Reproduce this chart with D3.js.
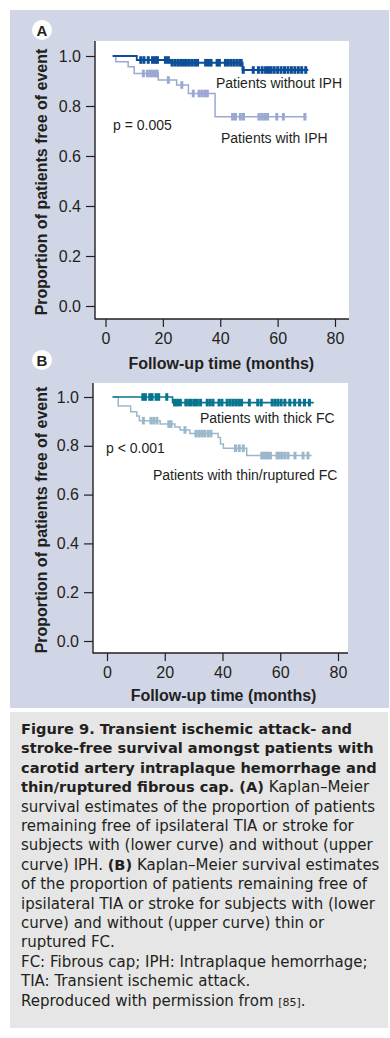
<!DOCTYPE html>
<html>
<head>
<meta charset="utf-8">
<script src="https://cdn.jsdelivr.net/npm/d3@7"></script>
<style>
body { margin: 0; background: #fff; }
svg { display: block; }
</style>
</head>
<body>
<div id="figure"></div>
<script>
// axis ticks
var xTicks = [0, 20, 40, 60, 80];
var yTicks = [0.0, 0.2, 0.4, 0.6, 0.8, 1.0];

// panel A - without IPH (upper curve)
var noIphTimes = [2.5, 10.9, 22.5, 47.8, 70.7];
var noIphSurv  = [1.0, 0.984, 0.973, 0.944, 0.944];
var noIphCensor = [12.3, 13.4, 14.9, 16.4, 17.4, 18.1, 20.9, 21.9,
  23.2, 24.2, 25.2, 26.2, 27.2, 28.2, 29.2, 30.2, 31.2, 32.1, 34.9, 35.9, 36.8,
  38.9, 39.7, 41.8, 42.8, 43.8, 44.8, 45.8, 46.8, 47.3,
  48.0, 51.5, 53.3, 54.6, 55.8, 56.8, 57.7, 58.8, 60.0, 61.2, 62.4, 63.6, 64.8,
  66.0, 67.2, 68.4, 69.8];

// panel A - with IPH (lower curve)
var iphTimes = [2.5, 3.6, 7.9, 10.0, 18.4, 24.8, 28.9, 38.2, 70.1];
var iphSurv  = [1.0, 0.977, 0.957, 0.93, 0.904, 0.884, 0.85, 0.757, 0.757];
var iphCensor = [13.2, 14.6, 15.6, 16.4, 17.4, 18.0, 21.9, 26.6, 30.6, 32.6, 33.6,
  34.6, 35.5, 44.3, 45.3, 47.0, 48.1, 53.5, 54.5, 55.5, 56.5, 59.7, 62.0, 69.5];

// panel B - thick FC (upper curve)
var thickTimes = [2.0, 22.7, 71.6];
var thickSurv  = [1.0, 0.977, 0.977];
var thickCensor = [12.4, 13.3, 14.8, 15.6, 17.0, 17.9, 20.7,
  23.4, 24.4, 25.4, 27.3, 28.3, 29.2, 30.3, 31.3, 32.4, 34.7, 35.7, 36.7,
  38.8, 39.8, 41.6, 42.6, 43.6, 44.6, 45.6, 46.6, 49.3,
  52.2, 53.4, 57.2, 58.2, 59.2, 60.3, 61.6, 63.3, 65.0, 66.7, 68.4, 70.1];

// panel B - thin/ruptured FC (lower curve)
var thinTimes = [1.8, 3.9, 8.2, 10.3, 11.2, 18.4, 23.5, 25.3, 28.7, 38.5, 39.3, 40.3, 48.4, 70.9];
var thinSurv  = [1.0, 0.963, 0.94, 0.922, 0.903, 0.889, 0.877, 0.865, 0.85, 0.834, 0.807, 0.79, 0.76, 0.76];
var thinCensor = [12.6, 15.2, 16.2, 17.3, 21.4, 22.2, 27.0, 30.8, 31.8, 32.8, 33.8,
  35.0, 36.0, 44.5, 45.8, 47.2, 53.6, 54.4, 55.1, 55.8, 56.6, 58.9, 59.7, 60.6,
  61.6, 62.7, 65.1, 67.9, 69.6];

var captionLines = [
  [["Figure 9. Transient ischemic attack- and", "b"]],
  [["stroke-free survival amongst patients with", "b"]],
  [["carotid artery intraplaque hemorrhage and", "b"]],
  [["thin/ruptured fibrous cap. (A)", "b"], [" Kaplan\u2013Meier", "r"]],
  [["survival estimates of the proportion of patients", "r"]],
  [["remaining free of ipsilateral TIA or stroke for", "r"]],
  [["subjects with (lower curve) and without (upper", "r"]],
  [["curve) IPH. ", "r"], ["(B)", "b"], [" Kaplan\u2013Meier survival estimates", "r"]],
  [["of the proportion of patients remaining free of", "r"]],
  [["ipsilateral TIA or stroke for subjects with (lower", "r"]],
  [["curve) and without (upper curve) thin or", "r"]],
  [["ruptured FC.", "r"]],
  [["FC: Fibrous cap; IPH: Intraplaque hemorrhage;", "r"]],
  [["TIA: Transient ischemic attack.", "r"]],
  [["Reproduced with permission from ", "r"], ["[85]", "s"], [".", "r"]]
];

var W = 390, H = 1038;
var chartFont = "'Liberation Sans', Arial, sans-serif";
var capFont = "'DejaVu Sans', sans-serif";

var svg = d3.select('#figure').append('svg')
  .attr('width', W)
  .attr('height', H);

// backgrounds
svg.append('rect').attr('x', 10).attr('y', 10).attr('width', 379).attr('height', 698)
  .attr('fill', '#d1d6e6');
svg.append('rect').attr('x', 10).attr('y', 712).attr('width', 378).attr('height', 316)
  .attr('fill', '#e6e6e6');

function survAt(times, surv, t) {
  var v = surv[0];
  for (var i = 0; i < times.length; i++) {
    if (times[i] <= t) v = surv[i];
  }
  return v;
}

function drawPanel(p) {
  var x = d3.scaleLinear().domain([0, 80]).range([p.x0, p.x80]);
  var y = d3.scaleLinear().domain([0, 1]).range([p.y0, p.y1]);

  svg.append('rect')
    .attr('x', p.left).attr('y', p.top)
    .attr('width', p.right - p.left).attr('height', p.bottom - p.top)
    .attr('fill', '#fff');

  // axes
  var yAxis = svg.append('g')
    .attr('transform', 'translate(' + p.left + ',0)')
    .call(d3.axisLeft(y).tickValues(yTicks).tickFormat(d3.format('.1f')).tickSize(9).tickPadding(5));
  var xAxis = svg.append('g')
    .attr('transform', 'translate(0,' + p.bottom + ')')
    .call(d3.axisBottom(x).tickValues(xTicks).tickSize(8).tickPadding(6));
  [xAxis, yAxis].forEach(function(g) {
    g.select('.domain').remove();
    g.selectAll('line').attr('stroke', '#231f20').attr('stroke-width', 1.2);
    g.selectAll('text').attr('font-family', chartFont).attr('font-size', 16).attr('fill', '#231f20');
  });

  svg.append('line').attr('x1', p.left).attr('x2', p.left).attr('y1', p.top).attr('y2', p.bottom + 0.6)
    .attr('stroke', '#231f20').attr('stroke-width', 1.4);
  svg.append('line').attr('x1', p.left).attr('x2', p.right).attr('y1', p.bottom).attr('y2', p.bottom)
    .attr('stroke', '#231f20').attr('stroke-width', 1.4);

  // axis titles
  svg.append('text')
    .attr('x', (p.x0 + p.x80) / 2 + 1).attr('y', p.xTitleY)
    .attr('text-anchor', 'middle')
    .attr('font-family', chartFont).attr('font-size', 16).attr('font-weight', 'bold')
    .attr('fill', '#231f20')
    .text('Follow-up time (months)');
  svg.append('text')
    .attr('transform', 'translate(47,' + ((p.y0 + p.y1) / 2 + 1) + ') rotate(-90)')
    .attr('text-anchor', 'middle')
    .attr('font-family', chartFont).attr('font-size', 16).attr('font-weight', 'bold')
    .attr('fill', '#231f20')
    .text('Proportion of patients free of event');

  // panel letter
  svg.append('circle').attr('cx', 42).attr('cy', p.letterY).attr('r', 10).attr('fill', '#fff');
  svg.append('text').attr('x', 42).attr('y', p.letterY + 5.5)
    .attr('text-anchor', 'middle')
    .attr('font-family', chartFont).attr('font-size', 15).attr('font-weight', 'bold')
    .attr('fill', '#231f20')
    .text(p.letter);

  var line = d3.line()
    .x(function(d) { return x(d[0]); })
    .y(function(d) { return y(d[1]); })
    .curve(d3.curveStepAfter);

  // lower curve first so the upper one sits on top
  p.curves.forEach(function(c) {
    var pts = c.times.map(function(t, i) { return [t, c.surv[i]]; });
    svg.append('path')
      .datum(pts)
      .attr('d', line)
      .attr('fill', 'none')
      .attr('stroke', c.color)
      .attr('stroke-width', c.width);
    svg.selectAll(null)
      .data(c.censor)
      .enter()
      .append('rect')
      .attr('x', function(t) { return x(t) - 1.5; })
      .attr('y', function(t) { return y(survAt(c.times, c.surv, t)) - 3.8; })
      .attr('width', 3)
      .attr('height', 7.6)
      .attr('fill', c.color);
  });

  p.labels.forEach(function(l) {
    svg.append('text')
      .attr('x', l[1]).attr('y', l[2])
      .attr('font-family', chartFont).attr('font-size', 14)
      .attr('fill', '#231f20')
      .text(l[0]);
  });
}

drawPanel({
  letter: 'A', letterY: 30,
  left: 95, right: 349, top: 41, bottom: 319,
  x0: 105.5, x80: 335, y0: 306, y1: 56, xTitleY: 369,
  curves: [
    {times: iphTimes, surv: iphSurv, censor: iphCensor, color: '#9ba9d2', width: 1.5},
    {times: noIphTimes, surv: noIphSurv, censor: noIphCensor, color: '#0b4e96', width: 1.8}
  ],
  labels: [
    ['Patients without IPH', 216, 88],
    ['p = 0.005', 113, 130],
    ['Patients with IPH', 221, 143]
  ]
});

drawPanel({
  letter: 'B', letterY: 360,
  left: 93, right: 348, top: 383, bottom: 653,
  x0: 107, x80: 338, y0: 641, y1: 397, xTitleY: 701,
  curves: [
    {times: thinTimes, surv: thinSurv, censor: thinCensor, color: '#9bb8cb', width: 1.5},
    {times: thickTimes, surv: thickSurv, censor: thickCensor, color: '#05758f', width: 1.6}
  ],
  labels: [
    ['Patients with thick FC', 200, 423],
    ['p < 0.001', 106, 453],
    ['Patients with thin/ruptured FC', 153, 480]
  ]
});

// caption
var cap = svg.append('g');
captionLines.forEach(function(parts, i) {
  var t = cap.append('text')
    .attr('x', 21).attr('y', 734 + i * 19.4)
    .attr('font-family', capFont).attr('font-size', 15)
    .attr('fill', '#231f20');
  parts.forEach(function(pt) {
    var s = t.append('tspan').text(pt[0]);
    if (pt[1] === 'b') s.attr('font-weight', 'bold').attr('font-size', 14.6);
    if (pt[1] === 's') s.attr('font-size', 11);
  });
});
</script>
</body>
</html>
